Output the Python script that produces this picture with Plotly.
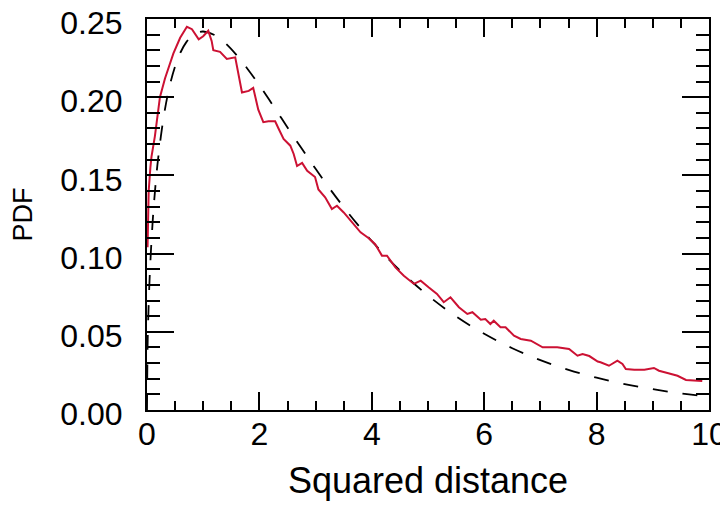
import plotly.graph_objects as go

# Empirical PDF (red)
red_x = [0.01, 0.03, 0.06, 0.08, 0.14, 0.23, 0.32, 0.47, 0.59, 0.71, 0.80, 0.92, 1.00, 1.09, 1.15, 1.18,
         1.30, 1.42, 1.57, 1.63, 1.69, 1.81, 1.89, 1.98, 2.07, 2.16, 2.28, 2.34, 2.43, 2.55, 2.61, 2.67,
         2.76, 2.85, 2.99, 3.05, 3.17, 3.29, 3.38, 3.50, 3.65, 3.80, 3.94, 4.06, 4.18, 4.27, 4.42, 4.57,
         4.75, 4.87, 5.01, 5.16, 5.28, 5.40, 5.55, 5.70, 5.79, 5.94, 6.02, 6.11, 6.17, 6.29, 6.38, 6.53,
         6.65, 6.83, 7.04, 7.30, 7.51, 7.66, 7.75, 7.87, 8.02, 8.07, 8.22, 8.37, 8.46, 8.52, 8.67, 8.85,
         9.02, 9.11, 9.26, 9.44, 9.59, 9.77, 9.88]
red_y = [0.104, 0.140, 0.155, 0.162, 0.175, 0.200, 0.212, 0.228, 0.238, 0.245, 0.2435, 0.237, 0.239, 0.2425, 0.236, 0.230,
         0.229, 0.2245, 0.2255, 0.215, 0.203, 0.204, 0.206, 0.192, 0.184, 0.1846, 0.1846, 0.180, 0.1733, 0.169, 0.1637, 0.156,
         0.158, 0.153, 0.149, 0.141, 0.136, 0.1285, 0.1306, 0.1263, 0.120, 0.1136, 0.110, 0.106, 0.0987, 0.0987, 0.0912, 0.0859,
         0.0806, 0.0827, 0.0785, 0.0742, 0.0689, 0.0721, 0.0657, 0.0614, 0.0625, 0.0577, 0.0582, 0.055, 0.0571, 0.0529, 0.0529, 0.0475,
         0.0454, 0.0443, 0.0401, 0.0401, 0.039, 0.0347, 0.0358, 0.0345, 0.031, 0.0305, 0.0283, 0.0315, 0.0294, 0.0262, 0.0258, 0.0258,
         0.0269, 0.0251, 0.0237, 0.0219, 0.0192, 0.0187, 0.0185]

# Reference PDF (black dashed)
ref_x = [0.0, 0.01, 0.02, 0.05, 0.1, 0.15, 0.2, 0.3, 0.4, 0.5, 0.6, 0.7, 0.8, 0.9, 1.0, 1.2, 1.4, 1.6, 1.8,
         2.0, 2.25, 2.5, 2.75, 3.0, 3.25, 3.5, 3.75, 4.0, 4.5, 5.0, 5.5, 6.0, 6.5, 7.0, 7.5, 8.0, 8.5,
         9.0, 9.5, 10.0]
ref_y = [0.0, 0.0397, 0.0559, 0.0870, 0.1200, 0.1433, 0.1614, 0.1881, 0.2066, 0.2197, 0.2289, 0.2352, 0.2392,
         0.2413, 0.2420, 0.2398, 0.2344, 0.2267, 0.2176, 0.2076, 0.1943, 0.1807, 0.1673, 0.1542, 0.1416,
         0.1297, 0.1185, 0.1080, 0.0892, 0.0732, 0.0598, 0.0487, 0.0395, 0.0319, 0.0257, 0.0207, 0.0166,
         0.0133, 0.0106, 0.0085]

x_ticks = [0, 2, 4, 6, 8, 10]
y_ticks = [0.00, 0.05, 0.10, 0.15, 0.20, 0.25]
y_tick_text = ["0.00", "0.05", "0.10", "0.15", "0.20", "0.25"]

FONT = "Liberation Sans, Arial, sans-serif"

fig = go.Figure()
fig.add_trace(go.Scatter(x=ref_x, y=ref_y, mode="lines", line=dict(color="black", width=1.8, dash="15px,15px", shape="spline"),
                         showlegend=False, hoverinfo="skip"))
fig.add_trace(go.Scatter(x=red_x, y=red_y, mode="lines", line=dict(color="#cc1133", width=2),
                         showlegend=False, hoverinfo="skip"))

# page body has an 8px margin, so the figure is sized/offset to compensate
fig.update_layout(
    width=720, height=505,
    margin=dict(l=139, r=19, t=11, b=103),
    paper_bgcolor="white", plot_bgcolor="white",
    font=dict(family=FONT, color="black"),
    xaxis=dict(
        range=[0, 10], tickvals=x_ticks, ticktext=[str(v) for v in x_ticks],
        showgrid=False, zeroline=False, showline=True, linecolor="black", linewidth=2,
        mirror="ticks", ticks="inside", ticklen=18, tickwidth=2, tickcolor="black",
        minor=dict(dtick=0.5, tick0=0, ticks="inside", ticklen=9, tickwidth=2, tickcolor="black", showgrid=False),
        tickfont=dict(size=32, family=FONT),
        ticklabelstandoff=-5,
        ticklabeloverflow="allow",
        automargin=False,
        title=dict(text="Squared distance", font=dict(size=36, family=FONT), standoff=16),
    ),
    yaxis=dict(
        range=[0, 0.25], tickvals=y_ticks, ticktext=y_tick_text,
        showgrid=False, zeroline=False, showline=True, linecolor="black", linewidth=2,
        mirror="ticks", ticks="inside", ticklen=27, tickwidth=2, tickcolor="black",
        minor=dict(dtick=0.01, tick0=0, ticks="inside", ticklen=13, tickwidth=2, tickcolor="black", showgrid=False),
        tickfont=dict(size=32, family=FONT),
        ticklabelstandoff=16,
        ticklabelshift=4,
        ticklabeloverflow="allow",
        automargin=False,
        title=dict(text="PDF", font=dict(size=27, family=FONT), standoff=22),
    ),
)

fig.write_html("out.html")
